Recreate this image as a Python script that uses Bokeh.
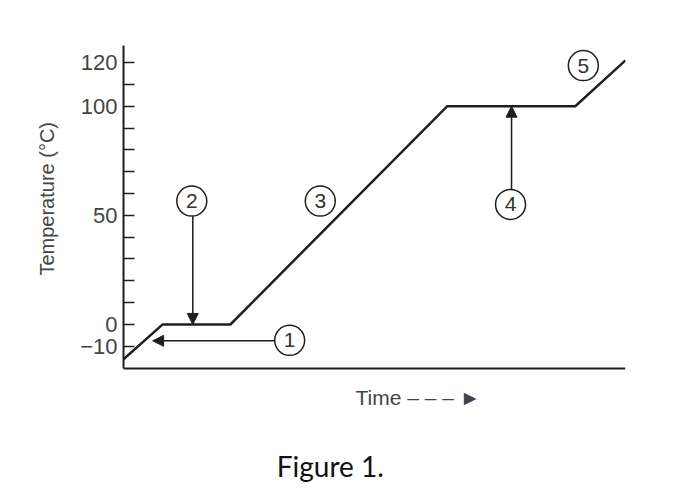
from bokeh.plotting import figure
from bokeh.models import (Range1d, FixedTicker, Arrow, NormalHead, ColumnDataSource)
from bokeh.core.properties import value
from bokeh.embed import file_html
from bokeh.resources import INLINE

# ---- data ----
curve_time = [0, 7.8, 21.3, 64.5, 90.0, 100.0]
curve_temp = [-16, 0, 0, 100, 100, 121]

y_ticks = [-10, 0, 10, 20, 30, 40, 50, 60, 70, 80, 90, 100, 110, 120]
y_labels = {-10: "\u221210", 0: "0", 50: "50", 100: "100", 120: "120"}

marker_ids = ["1", "2", "3", "4", "5"]
marker_time = [33.1, 13.6, 39.2, 77.1, 91.6]
marker_temp = [-7.3, 56.5, 56.5, 55.0, 118.6]

# arrows: (start time, start temp, end time, end temp)
arrow_x0 = [30.1, 13.8, 77.3]
arrow_y0 = [-7.5, 49.6, 61.9]
arrow_x1 = [5.8, 13.8, 77.3]
arrow_y1 = [-7.5, 0.0, 100.0]

# axis extents (time, temperature)
time_min, time_max = 0, 100
temp_min, temp_max = -20.2, 127.8

y_label = "Temperature (\u00b0C)"
x_label = "Time \u2013 \u2013 \u2013 \u25ba"
x_label_pos = (46.2, -33.6)
caption = "Figure 1."
caption_pos = (41.2, -64.8)

INK = "#1e1e1e"
TXT = "#444444"

# the frame runs on below the time axis so that the axis label and caption can sit there
p = figure(width=672, height=490, output_backend="svg", toolbar_location=None,
           x_range=Range1d(time_min, time_max), y_range=Range1d(-73.8, temp_max),
           min_border_left=123, min_border_right=47, min_border_top=45, min_border_bottom=5)
p.outline_line_color = None
p.grid.visible = False
p.background_fill_color = "white"
p.border_fill_color = "white"

# y axis
ya = p.yaxis[0]
ya.bounds = (temp_min, temp_max)
ya.ticker = FixedTicker(ticks=y_ticks)
ya.major_label_overrides = {t: y_labels.get(t, "") for t in y_ticks}
ya.major_tick_in = 11
ya.major_tick_out = 0
ya.minor_tick_line_color = None
ya.axis_line_width = 2
ya.axis_line_color = INK
ya.major_tick_line_width = 1.5
ya.major_tick_line_color = INK
ya.major_label_text_font = "Liberation Sans"
ya.major_label_text_font_size = "22px"
ya.major_label_text_color = TXT
ya.major_label_standoff = 6
# leading no-break spaces lift the label to the middle of the temperature scale
ya.axis_label = "\u00a0" * 24 + y_label
ya.axis_label_text_font = "Liberation Sans"
ya.axis_label_text_font_style = "normal"
ya.axis_label_text_font_size = "20px"
ya.axis_label_text_color = TXT
ya.axis_label_standoff = 19

# x axis, fixed at the bottom of the temperature scale
xa = p.xaxis[0]
xa.fixed_location = temp_min
xa.bounds = (time_min, time_max)
xa.ticker = FixedTicker(ticks=[])
xa.major_tick_line_color = None
xa.major_tick_out = 0
xa.major_tick_in = 0
xa.minor_tick_line_color = None
xa.major_label_text_font_size = "0px"
xa.major_label_standoff = 0
xa.axis_line_width = 2
xa.axis_line_color = INK

# main curve
p.line(curve_time, curve_temp, line_color=INK, line_width=2.5, line_join="miter")

# arrows
for x0, y0, x1, y1 in zip(arrow_x0, arrow_y0, arrow_x1, arrow_y1):
    p.add_layout(Arrow(x_start=x0, y_start=y0, x_end=x1, y_end=y1,
                       line_color=INK, line_width=1.5,
                       end=NormalHead(size=11, fill_color=INK, line_color=INK, line_width=1)))

# numbered circles
src = ColumnDataSource(dict(x=marker_time, y=marker_temp, t=marker_ids))
p.scatter("x", "y", source=src, marker="circle", size=30, fill_color="white",
          line_color=INK, line_width=1.5)
p.text("x", "y", text="t", source=src, text_align="center", text_baseline="middle",
       text_font=value("Liberation Sans"), text_font_size="21px", text_color="#333333")

# time axis label
p.text(x=[x_label_pos[0]], y=[x_label_pos[1]], text=[x_label], text_align="left",
       text_baseline="middle", text_font=value("Liberation Sans"), text_font_size="21px",
       text_color=TXT)

# caption
p.text(x=[caption_pos[0]], y=[caption_pos[1]], text=[caption], text_align="center",
       text_baseline="alphabetic", text_font=value("Lato"), text_font_size="28px",
       text_color="#111111")

open("out.html", "w").write(file_html(p, INLINE))
